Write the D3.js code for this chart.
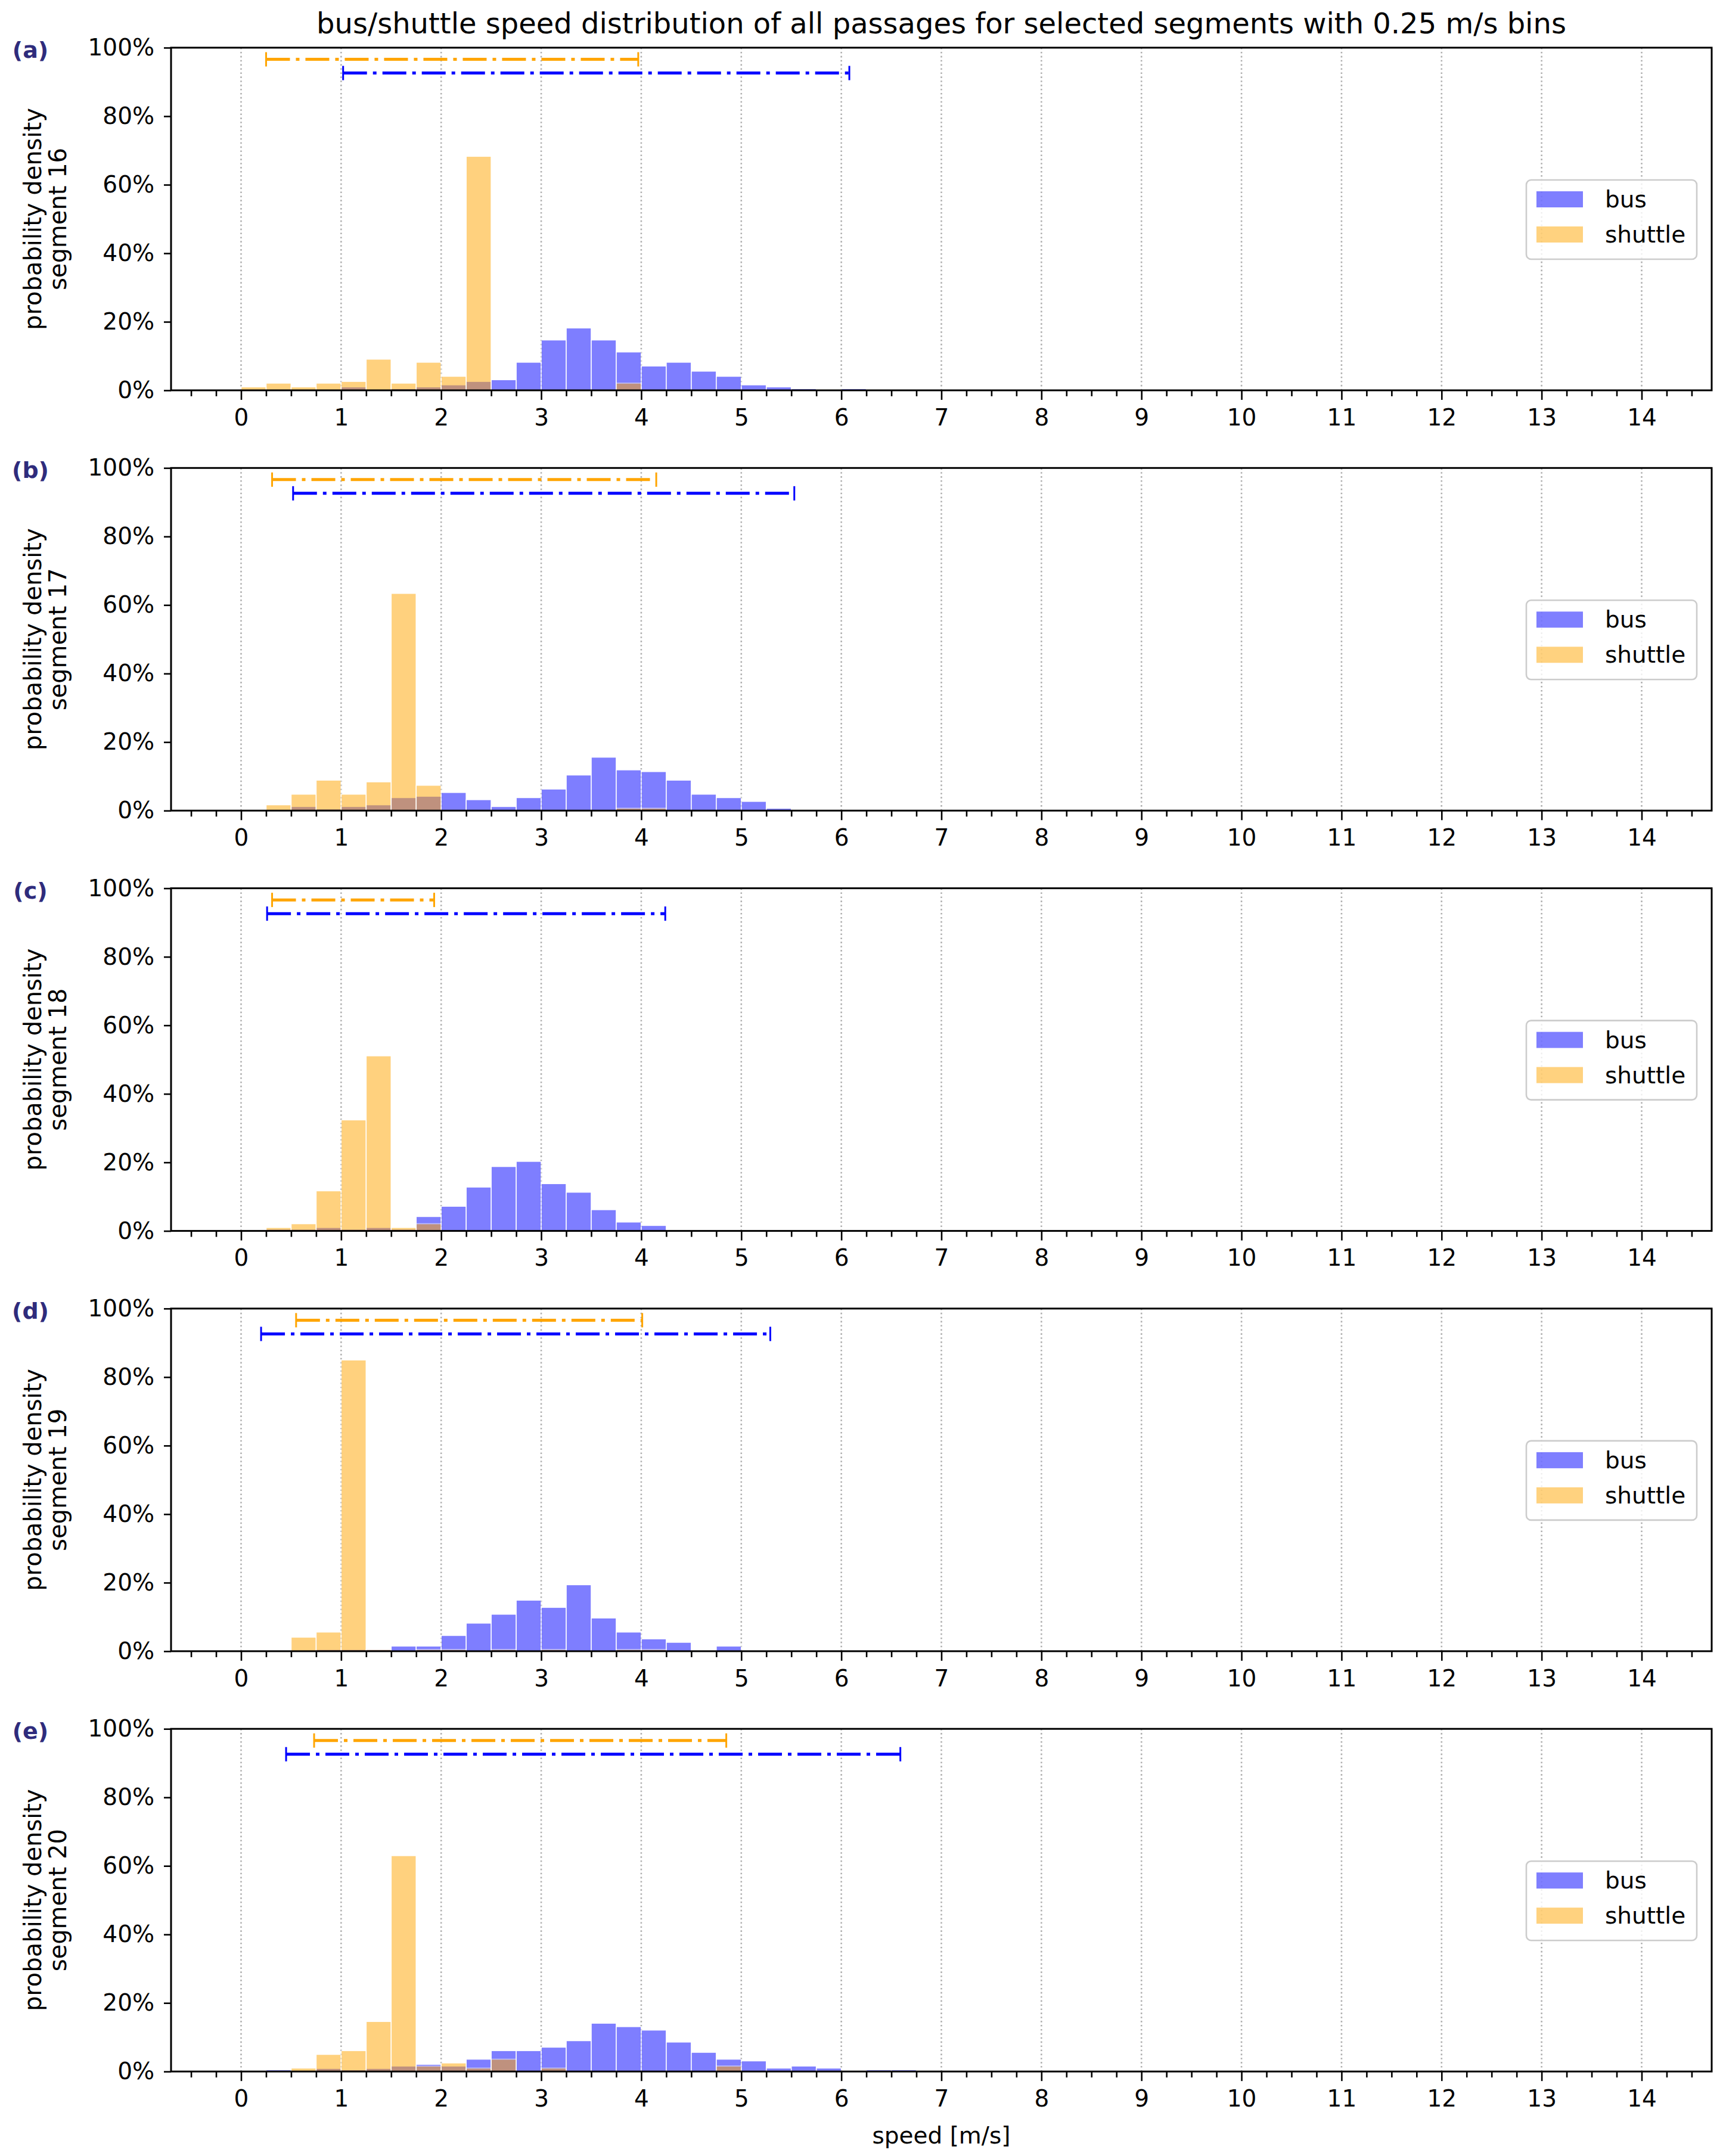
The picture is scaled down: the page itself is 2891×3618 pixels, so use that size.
<!DOCTYPE html>
<html>
<head>
<meta charset="utf-8">
<script src="https://cdn.jsdelivr.net/npm/d3@7"></script>
<style>
  body { margin: 0; background: #fff; }
  text { font-family: "DejaVu Sans", sans-serif; }
</style>
</head>
<body>
<div id="chart"></div>
<script>
// ---- data (percent per 0.25 m/s bin, first bin starts at 0 m/s) ----
const segments = [16, 17, 18, 19, 20];
const panelLetters = ["(a)", "(b)", "(c)", "(d)", "(e)"];
const BIN = 0.25;

const busA = [0, 0, 0, 0, 1.0, 0, 0.5, 1.0, 1.6, 2.6, 3.1, 8.2, 14.7, 18.2, 14.7, 11.2, 7.1, 8.2, 5.6, 4.1, 1.6, 1.0, 0.5, 0, 0.5];
const shuttleA = [1.0, 2.1, 1.0, 2.1, 2.6, 9.1, 2.1, 8.2, 4.1, 68.3, 0, 0, 0, 0, 0, 2.1];

const busB = [0, 0, 1.2, 0.5, 1.2, 1.7, 3.8, 4.2, 5.3, 3.2, 1.2, 3.8, 6.3, 10.4, 15.6, 11.9, 11.4, 8.9, 4.8, 3.8, 2.7, 0.7];
const shuttleB = [0, 1.7, 4.8, 8.9, 4.8, 8.4, 63.4, 7.4, 0, 0, 0, 0, 0, 0, 0, 0.7, 0.7];

const busC = [0, 0.5, 0.5, 1.0, 0.5, 1.0, 0.5, 4.2, 7.2, 12.8, 18.8, 20.3, 13.8, 11.3, 6.2, 2.6, 1.6];
const shuttleC = [0, 1.0, 2.1, 11.7, 32.4, 51.1, 1.0, 2.1];

const busD = [0, 0, 0, 0.5, 0.5, 0.5, 1.5, 1.5, 4.6, 8.2, 10.8, 14.9, 12.8, 19.4, 9.7, 5.6, 3.6, 2.6, 0, 1.5];
const shuttleD = [0, 0, 4.1, 5.6, 85.0, 0.5, 0, 0.5, 0.5, 0, 0.5, 0, 0.5, 0, 0, 0.5, 0.5];

const busE = [0, 0.5, 0, 0.9, 0.5, 0.9, 1.6, 2.1, 1.6, 3.6, 6.1, 6.1, 7.1, 9.0, 14.1, 13.1, 12.1, 8.6, 5.6, 3.6, 3.1, 1.0, 1.6, 1.0, 0, 0.5, 0.5];
const shuttleE = [0, 0, 1.0, 5.0, 6.1, 14.6, 63.0, 1.6, 2.5, 1.0, 3.6, 0, 1.0, 0, 0, 0, 0, 0, 0, 1.6];

// speed ranges shown as the dash-dot bars at the top of each panel [from, to] in m/s
const busRanges = [[1.02, 6.08], [0.52, 5.53], [0.26, 4.24], [0.20, 5.29], [0.45, 6.59]];
const shuttleRanges = [[0.25, 3.97], [0.31, 4.15], [0.31, 1.93], [0.55, 4.01], [0.73, 4.85]];
const BUS_RANGE_LEVEL = 92.6;
const SHUTTLE_RANGE_LEVEL = 96.6;

const xTicks = d3.range(0, 15);
const xMinorTicks = d3.range(-0.5, 14.51, 0.25).filter(v => Math.abs(v - Math.round(v)) > 1e-6);
const yTicks = [0, 20, 40, 60, 80, 100];

const busSeries = [busA, busB, busC, busD, busE];
const shuttleSeries = [shuttleA, shuttleB, shuttleC, shuttleD, shuttleE];

// ---- layout ----
const W = 2891, H = 3618;
const PLOT_LEFT = 287, PLOT_RIGHT = 2872;
const TOP0 = 80, STEP = 705.3, PANEL_H = 575;
const FONT = 39;

const svg = d3.select("#chart")
    .append("svg")
        .attr("width", W)
        .attr("height", H);

svg.append("rect")
    .attr("width", W)
    .attr("height", H)
    .attr("fill", "#fff");

const x = d3.scaleLinear()
    .domain([-0.7, 14.7])
    .range([PLOT_LEFT, PLOT_RIGHT]);

segments.forEach((seg, i) => {
    const top = TOP0 + i * STEP;
    const bottom = top + PANEL_H;

    const y = d3.scaleLinear()
        .domain([0, 100])
        .range([bottom, top]);

    const g = svg.append("g");

    // dotted vertical grid
    g.selectAll("line.grid")
        .data(xTicks)
        .join("line")
            .attr("class", "grid")
            .attr("x1", d => x(d))
            .attr("x2", d => x(d))
            .attr("y1", top)
            .attr("y2", bottom)
            .attr("stroke", "#b0b0b0")
            .attr("stroke-width", 2.6)
            .attr("stroke-dasharray", "2.6,4.3");

    // histograms: bus first, shuttle on top
    const drawHist = (values, color, cls) => {
        const bins = values.map((v, k) => ({x0: k * BIN, x1: (k + 1) * BIN, v}))
            .filter(d => d.v > 0);
        g.selectAll("rect." + cls)
            .data(bins)
            .join("rect")
                .attr("class", cls)
                .attr("x", d => x(d.x0))
                .attr("width", d => x(d.x1) - x(d.x0))
                .attr("y", d => y(d.v))
                .attr("height", d => y(0) - y(d.v))
                .attr("fill", color)
                .attr("stroke", "#fff")
                .attr("stroke-width", 1.6)
                .attr("opacity", 0.5);
    };
    drawHist(busSeries[i], "#0000ff", "bus");
    drawHist(shuttleSeries[i], "#ffa500", "shuttle");

    // speed range bars
    const ranges = [
        {r: shuttleRanges[i], level: SHUTTLE_RANGE_LEVEL, color: "#ffa500"},
        {r: busRanges[i], level: BUS_RANGE_LEVEL, color: "#0000ff"}
    ];
    ranges.forEach(d => {
        const yy = y(d.level);
        g.append("line")
            .attr("x1", x(d.r[0]))
            .attr("x2", x(d.r[1]))
            .attr("y1", yy)
            .attr("y2", yy)
            .attr("stroke", d.color)
            .attr("stroke-width", 5)
            .attr("stroke-dasharray", "40,10,6,10");
        g.selectAll(null)
            .data(d.r)
            .join("line")
                .attr("x1", v => x(v))
                .attr("x2", v => x(v))
                .attr("y1", yy - 12)
                .attr("y2", yy + 12)
                .attr("stroke", d.color)
                .attr("stroke-width", 3);
    });

    // axes
    const xAxisCall = d3.axisBottom(x)
        .tickValues(xTicks)
        .tickSize(16)
        .tickPadding(15)
        .tickFormat(d3.format("d"));
    const xAxis = g.append("g")
        .attr("transform", `translate(0, ${bottom})`)
        .call(xAxisCall);

    const xMinorCall = d3.axisBottom(x)
        .tickValues(xMinorTicks)
        .tickSize(10)
        .tickFormat("");
    const xMinor = g.append("g")
        .attr("transform", `translate(0, ${bottom})`)
        .call(xMinorCall);

    const yAxisCall = d3.axisLeft(y)
        .tickValues(yTicks)
        .tickSize(12)
        .tickPadding(16)
        .tickFormat(d => d + "%");
    const yAxis = g.append("g")
        .attr("transform", `translate(${PLOT_LEFT}, 0)`)
        .call(yAxisCall);

    [xAxis, xMinor, yAxis].forEach(a => {
        a.select(".domain").remove();
        a.selectAll(".tick line").attr("stroke", "#000").attr("stroke-width", 2.6);
        a.selectAll(".tick text")
            .attr("font-family", "DejaVu Sans")
            .attr("font-size", FONT)
            .attr("fill", "#000");
    });

    // frame
    g.append("rect")
        .attr("x", PLOT_LEFT)
        .attr("y", top)
        .attr("width", PLOT_RIGHT - PLOT_LEFT)
        .attr("height", PANEL_H)
        .attr("fill", "none")
        .attr("stroke", "#000")
        .attr("stroke-width", 3);

    // y label, two lines
    const cy = (top + bottom) / 2;
    [["probability density", 69], ["segment " + seg, 111]].forEach(([txt, bx]) => {
        g.append("text")
            .attr("transform", `translate(${bx}, ${cy}) rotate(-90)`)
            .attr("text-anchor", "middle")
            .attr("font-size", 40)
            .attr("fill", "#000")
            .text(txt);
    });

    // panel letter
    g.append("text")
        .attr("x", 51)
        .attr("y", top + 17)
        .attr("text-anchor", "middle")
        .attr("font-size", 38)
        .attr("font-weight", "bold")
        .attr("fill", "#2f2c7c")
        .text(panelLetters[i]);

    // legend
    const lg = g.append("g")
        .attr("transform", `translate(2561, ${top + 222})`);
    lg.append("rect")
        .attr("width", 286)
        .attr("height", 133)
        .attr("rx", 8)
        .attr("fill", "#fff")
        .attr("fill-opacity", 0.8)
        .attr("stroke", "#cccccc")
        .attr("stroke-width", 2.6);
    const items = [["bus", "#0000ff", 19], ["shuttle", "#ffa500", 78]];
    items.forEach(([name, color, oy]) => {
        lg.append("rect")
            .attr("x", 17)
            .attr("y", oy)
            .attr("width", 78)
            .attr("height", 27)
            .attr("fill", color)
            .attr("opacity", 0.5);
        lg.append("text")
            .attr("x", 132)
            .attr("y", oy + 27)
            .attr("font-size", FONT)
            .attr("fill", "#000")
            .text(name);
    });
});

svg.append("text")
    .attr("x", (PLOT_LEFT + PLOT_RIGHT) / 2)
    .attr("y", 56)
    .attr("text-anchor", "middle")
    .attr("font-size", 48)
    .attr("fill", "#000")
    .text("bus/shuttle speed distribution of all passages for selected segments with 0.25 m/s bins");

svg.append("text")
    .attr("x", (PLOT_LEFT + PLOT_RIGHT) / 2)
    .attr("y", 3597)
    .attr("text-anchor", "middle")
    .attr("font-size", FONT)
    .attr("fill", "#000")
    .text("speed [m/s]");
</script>
</body>
</html>
